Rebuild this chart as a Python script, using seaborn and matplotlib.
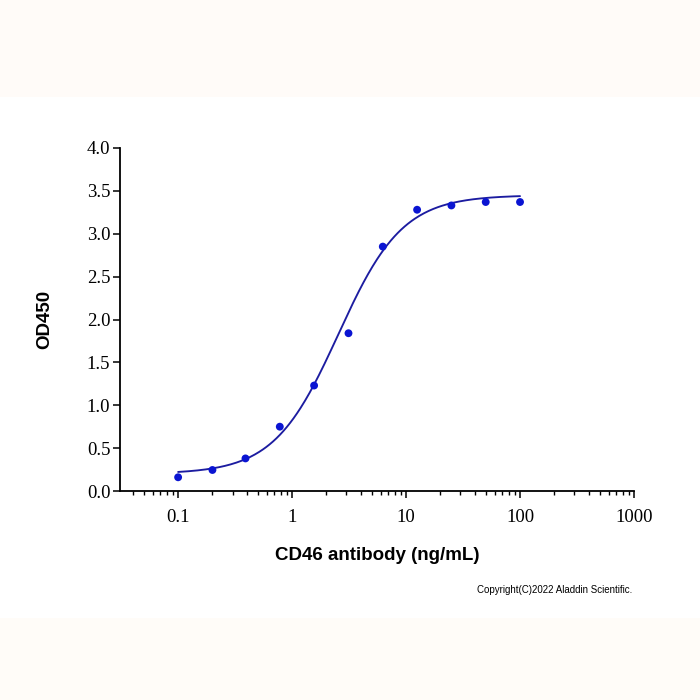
import numpy as np
import pandas as pd
import matplotlib
matplotlib.use("Agg")
import matplotlib.pyplot as plt
from matplotlib.patches import Rectangle
from matplotlib.ticker import LogLocator, NullFormatter, FixedLocator, FuncFormatter
import seaborn as sns

# ── dữ liệu ──
conc = [0.1, 0.2, 0.39, 0.78, 1.56, 3.125, 6.25, 12.5, 25, 50, 100]
od450 = [0.16, 0.245, 0.38, 0.75, 1.23, 1.84, 2.85, 3.28, 3.33, 3.37, 3.37]

# tham số đường fit 4PL (ước lượng từ hình)
fit_bottom = 0.20
fit_top = 3.45
fit_ec50 = 2.54
fit_hill = 1.54

x_ticks = [0.1, 1, 10, 100, 1000]
x_tick_labels = ["0.1", "1", "10", "100", "1000"]
y_ticks = [0.0, 0.5, 1.0, 1.5, 2.0, 2.5, 3.0, 3.5, 4.0]

df = pd.DataFrame({"conc": conc, "od": od450})
x_fit = np.logspace(np.log10(conc[0]), np.log10(conc[-1]), 300)
y_fit = fit_bottom + (fit_top - fit_bottom) / (1 + (fit_ec50 / x_fit) ** fit_hill)
fit_df = pd.DataFrame({"conc": x_fit, "od": y_fit})

sns.set_theme(style="ticks")

fig = plt.figure(figsize=(7, 7), dpi=100, facecolor="white")
# dải nền nhạt trên / dưới
fig.patches.append(Rectangle((0, 1 - 97 / 700), 1, 97 / 700, transform=fig.transFigure,
                             facecolor="#fffbf8", edgecolor="none", zorder=-5))
fig.patches.append(Rectangle((0, 0), 1, 82 / 700, transform=fig.transFigure,
                             facecolor="#fffcf8", edgecolor="none", zorder=-5))

ax = fig.add_axes([120 / 700, 1 - 491 / 700, 514 / 700, 343 / 700])
ax.set_facecolor("none")

sns.lineplot(data=fit_df, x="conc", y="od", ax=ax, color="#1c1ca0", linewidth=1.35)
sns.scatterplot(data=df, x="conc", y="od", ax=ax, color="#0a14d2", s=32,
                edgecolor="none", zorder=3)

ax.set_xscale("log")
ax.set_xlim(10 ** -1.51, 1000)
ax.set_ylim(0, 4)

ax.xaxis.set_major_locator(FixedLocator(x_ticks))
ax.xaxis.set_major_formatter(FuncFormatter(lambda v, p: x_tick_labels[x_ticks.index(v)] if v in x_ticks else ""))
ax.xaxis.set_minor_locator(LogLocator(base=10, subs=np.arange(2, 10)))
ax.xaxis.set_minor_formatter(NullFormatter())
ax.set_yticks(y_ticks)
ax.set_yticklabels([f"{v:.1f}" for v in y_ticks])

for lab in ax.get_xticklabels() + ax.get_yticklabels():
    lab.set_family("Liberation Serif")
    lab.set_fontsize(13.5)
    lab.set_color("black")

ax.tick_params(axis="both", which="major", direction="out", length=5, width=1.1, color="black")
ax.tick_params(axis="x", which="minor", direction="out", length=3, width=1.0, color="black")
ax.tick_params(axis="x", which="major", pad=8)
ax.tick_params(axis="y", which="major", pad=2)

for side in ["top", "right"]:
    ax.spines[side].set_visible(False)
for side in ["left", "bottom"]:
    ax.spines[side].set_linewidth(1.3)
    ax.spines[side].set_color("black")

ax.set_xlabel("CD46 antibody (ng/mL)", family="Liberation Sans", fontweight="bold",
              fontsize=13.5, color="black", labelpad=15)
ax.set_ylabel("OD450", family="Liberation Sans", fontweight="bold",
              fontsize=13.5, color="black", labelpad=24)

fig.text(632 / 700, 1 - 590 / 700, "Copyright(C)2022 Aladdin Scientific.",
         family="Liberation Sans", fontsize=7, color="black", ha="right", va="center")

fig.savefig("out.png", dpi=100, facecolor=fig.get_facecolor())
plt.close(fig)
